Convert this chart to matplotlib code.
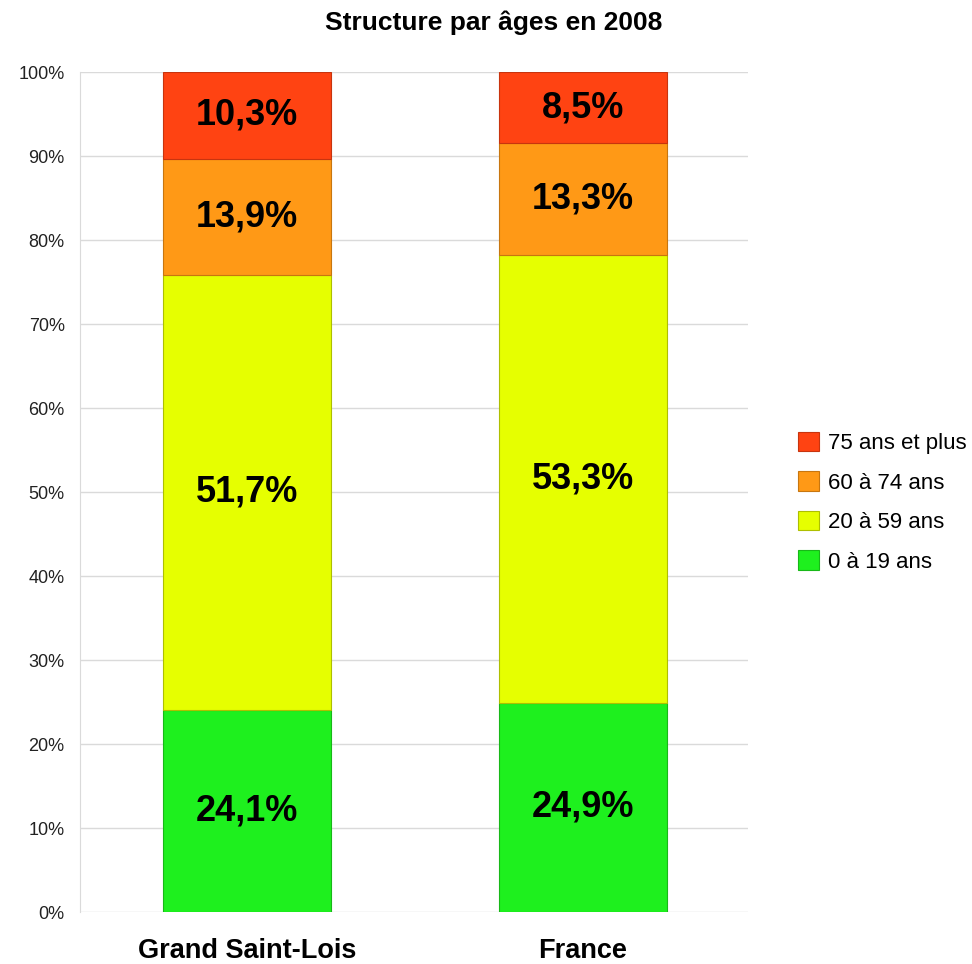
import matplotlib.pyplot as plt
from matplotlib.ticker import PercentFormatter

plt.rcParams['font.family'] = ['Liberation Sans', 'DejaVu Sans']

# données : structure par âges en 2008 (%)
territoires = ['Grand Saint-Lois', 'France']
classes = ['0 à 19 ans', '20 à 59 ans', '60 à 74 ans', '75 ans et plus']
age_0_19 = [24.1, 24.9]
age_20_59 = [51.7, 53.3]
age_60_74 = [13.9, 13.3]
age_75_plus = [10.3, 8.5]

series = [age_0_19, age_20_59, age_60_74, age_75_plus]
colors = ['#1EF01E', '#E6FF00', '#FF9916', '#FF4312']
edges = ['#18B818', '#AEBF00', '#C8760F', '#C8340E']

fig = plt.figure(figsize=(9.72, 9.64), dpi=100)
ax = fig.add_axes([0.0823, 0.0539, 0.6872, 0.8714])

x = [0, 1.006]
bottom = [0.0, 0.0]
handles = []
for vals, lab, c, ec in zip(series, classes, colors, edges):
    bars = ax.bar(x, vals, width=0.505, bottom=bottom, color=c,
                  edgecolor=ec, linewidth=0.8, label=lab, zorder=3)
    handles.append(bars)
    for xi, b, v in zip(x, bottom, vals):
        ax.text(xi, b + v / 2, f'{v:.1f}%'.replace('.', ','),
                ha='center', va='center', fontsize=26, fontweight='bold',
                zorder=4)
    bottom = [b + v for b, v in zip(bottom, vals)]

ax.set_xlim(-0.5, 1.5)
ax.set_ylim(0, 100)
ax.set_yticks(range(0, 101, 10))
ax.yaxis.set_major_formatter(PercentFormatter(decimals=0))
ax.set_xticks(x)
ax.set_xticklabels(territoires, fontsize=19.5, fontweight='bold')
ax.tick_params(axis='x', length=0, pad=19)
ax.tick_params(axis='y', length=0, labelsize=13, colors='#222222', pad=11)
ax.grid(axis='y', color='#DADADA', linewidth=1, zorder=0)
for s in ['top', 'right', 'bottom']:
    ax.spines[s].set_visible(False)
ax.spines['left'].set_color('#DADADA')

# titre centré sur la figure entière
fig.text(0.508, 0.976, 'Structure par âges en 2008', ha='center', va='center',
         fontsize=19, fontweight='bold')

fig.legend(handles[::-1], classes[::-1], loc='center left',
           bbox_to_anchor=(0.8, 0.479), frameon=False, fontsize=16,
           handlelength=0.95, handleheight=0.95, handletextpad=0.4,
           labelspacing=0.78)

plt.savefig('out.png', dpi=100)
